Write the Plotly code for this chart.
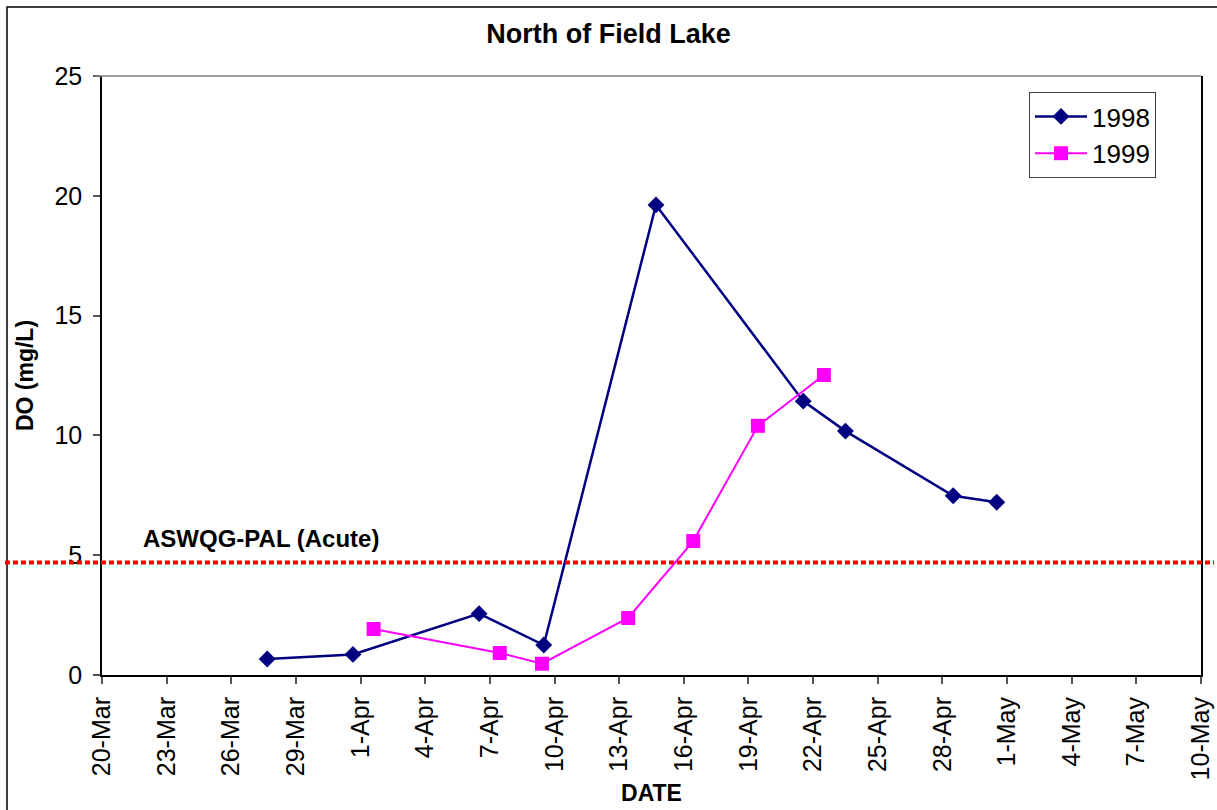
import plotly.graph_objects as go
from datetime import datetime

# ---- data ----
dates_1998 = ["1998-03-27 16:00", "1998-03-31 15:30", "1998-04-06 12:00", "1998-04-09 12:00",
              "1998-04-14 17:00", "1998-04-21 13:00", "1998-04-23 12:00", "1998-04-28 12:00",
              "1998-04-30 12:30"]
do_1998 = [0.67, 0.86, 2.56, 1.25, 19.62, 11.43, 10.18, 7.48, 7.21]

dates_1999 = ["1999-04-01 14:30", "1999-04-07 11:00", "1999-04-09 10:00", "1999-04-13 10:00",
              "1999-04-16 10:30", "1999-04-19 10:30", "1999-04-22 12:00"]
do_1999 = [1.92, 0.92, 0.47, 2.38, 5.59, 10.40, 12.52]

pal_acute = 4.7
pal_label = "ASWQG-PAL (Acute)"
x_start, x_end = "1998-03-20", "1998-05-10"
y_max = 25

PLOT_YEAR = 1998


def to_plot_year(s):
    d = datetime.strptime(s, "%Y-%m-%d %H:%M")
    return d.replace(year=PLOT_YEAR)


FONT = "Arial, Liberation Sans, sans-serif"

fig = go.Figure()
fig.add_trace(go.Scatter(
    x=[to_plot_year(d) for d in dates_1998], y=do_1998, name="1998",
    mode="lines+markers", legendgroup="a",
    line=dict(color="#000080", width=2.5),
    marker=dict(symbol="diamond", size=13, color="#000080"),
))
fig.add_trace(go.Scatter(
    x=[to_plot_year(d) for d in dates_1999], y=do_1999, name="1999",
    mode="lines+markers", legendgroup="b",
    line=dict(color="#FF00FF", width=2),
    marker=dict(symbol="square", size=14, color="#FF00FF"),
))

L, R, T, B = 102, 16, 76, 135
W, H = 1217, 810
pw = W - L - R
ph = H - T - B


def px_to_xpaper(px):
    return (px - L) / pw


def px_to_ypaper(py):
    return (H - B - py) / ph


shapes = [
    # outer chart border
    dict(type="rect", xref="paper", yref="paper",
         x0=px_to_xpaper(7), x1=px_to_xpaper(1222),
         y0=px_to_ypaper(815), y1=px_to_ypaper(7),
         line=dict(color="black", width=1.5), fillcolor="rgba(0,0,0,0)", layer="below"),
    # top plot border (gray)
    dict(type="line", xref="paper", yref="paper", x0=px_to_xpaper(95), x1=1, y0=1, y1=1,
         line=dict(color="#808080", width=1.5)),
    # guideline (dotted red), spanning the whole chart width
    dict(type="line", xref="paper", yref="paper",
         x0=px_to_xpaper(5), x1=px_to_xpaper(1214),
         y0=pal_acute / y_max, y1=pal_acute / y_max,
         line=dict(color="#FF0000", width=4, dash="5px,3px")),
]

fig.update_layout(
    width=W, height=H,
    margin=dict(l=L, r=R, t=T, b=B, autoexpand=False),
    paper_bgcolor="white", plot_bgcolor="white",
    font=dict(family=FONT, color="black", size=23),
    title=dict(text="<b>North of Field Lake</b>", x=0.5, xref="container", xanchor="center",
               y=1 - 34 / H, yanchor="middle", font=dict(size=27, family=FONT)),
    showlegend=True,
    legend=dict(x=px_to_xpaper(1029), y=px_to_ypaper(92), xanchor="left", yanchor="top",
                bordercolor="#404040", borderwidth=1, bgcolor="white",
                font=dict(size=26, family=FONT), tracegroupgap=0, itemwidth=52),
    shapes=shapes,
    annotations=[dict(text="<b>" + pal_label + "</b>", xref="paper", yref="y",
                      x=px_to_xpaper(141), y=pal_acute, xanchor="left", yanchor="middle",
                      yshift=24, showarrow=False, font=dict(size=24, family=FONT))],
)

fig.update_xaxes(
    type="date", range=[x_start, x_end], automargin=False,
    tickmode="linear", tick0=x_start, dtick=3 * 86400000,
    tickformat="%-d-%b", tickangle=-90,
    ticks="outside", ticklen=7, tickcolor="#555", tickwidth=1.5,
    showline=True, linecolor="black", linewidth=2,
    showgrid=False, zeroline=False,
    tickfont=dict(size=25, family=FONT), ticklabelstandoff=3,
    title=dict(text="<b>DATE</b>", font=dict(size=23, family=FONT), standoff=6),
)
fig.update_yaxes(
    range=[0, y_max], tickmode="linear", tick0=0, dtick=5, automargin=False,
    ticks="outside", ticklen=7, tickcolor="#555", tickwidth=1.5,
    showline=True, linecolor="black", linewidth=1.5, mirror=True,
    showgrid=False, zeroline=False,
    tickfont=dict(size=25, family=FONT), ticklabelstandoff=6,
    title=dict(text="<b>DO (mg/L)</b>", font=dict(size=23, family=FONT), standoff=14),
)

fig.write_html("out.html")
